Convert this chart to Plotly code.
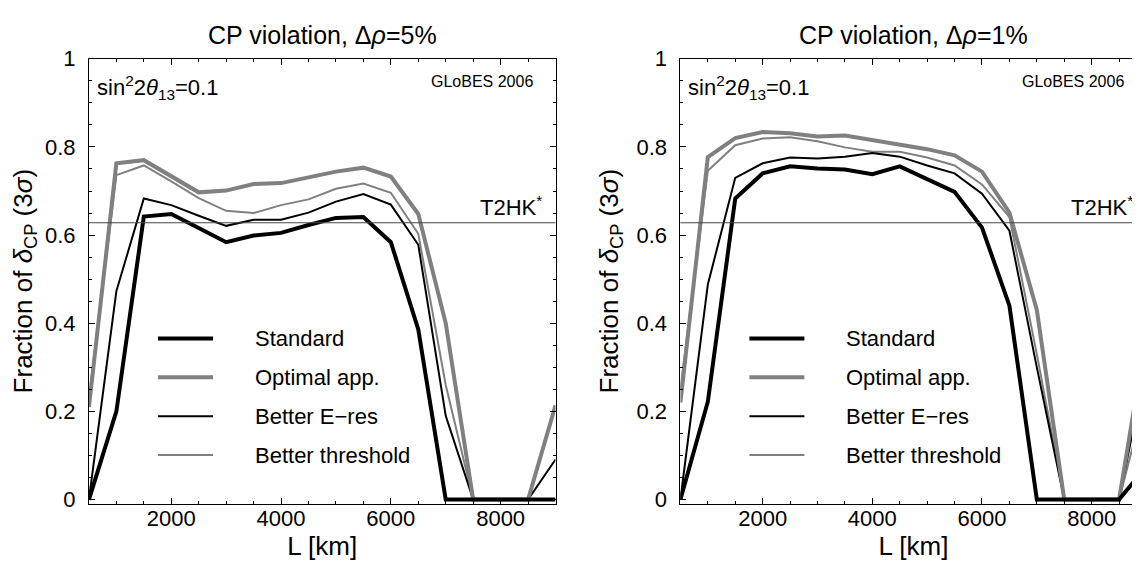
import plotly.graph_objects as go

# baseline L [km]
L = [500, 1000, 1500, 2000, 2500, 3000, 3500, 4000, 4500, 5000,
     5500, 6000, 6500, 7000, 7500, 8000, 8500, 9000]

# left panel: delta rho = 5%
std_5 = [0, 0.200, 0.642, 0.648, 0.616, 0.584, 0.599, 0.605, 0.623, 0.639,
         0.641, 0.584, 0.386, 0, 0, 0, 0, 0]
opt_5 = [0.21, 0.763, 0.770, 0.733, 0.697, 0.701, 0.716, 0.718, 0.730, 0.744,
         0.753, 0.733, 0.648, 0.40, 0, 0, 0, 0.214]
eres_5 = [0, 0.473, 0.683, 0.668, 0.644, 0.621, 0.635, 0.635, 0.651, 0.676,
          0.693, 0.669, 0.578, 0.19, 0, 0, 0, 0.091]
thr_5 = [0.23, 0.736, 0.758, 0.722, 0.684, 0.655, 0.650, 0.668, 0.681, 0.705,
         0.717, 0.696, 0.603, 0.26, 0, 0, 0, 0]

# right panel: delta rho = 1%
std_1 = [0, 0.222, 0.683, 0.740, 0.756, 0.751, 0.749, 0.738, 0.756, 0.727,
         0.698, 0.617, 0.440, 0, 0, 0, 0, 0.075]
opt_1 = [0.22, 0.777, 0.820, 0.834, 0.831, 0.824, 0.826, 0.815, 0.804, 0.795,
         0.781, 0.744, 0.651, 0.43, 0, 0, 0, 0.378]
eres_1 = [0, 0.488, 0.730, 0.763, 0.776, 0.774, 0.778, 0.786, 0.778, 0.758,
          0.740, 0.694, 0.610, 0.30, 0, 0, 0, 0.31]
thr_1 = [0.25, 0.746, 0.804, 0.819, 0.822, 0.813, 0.799, 0.789, 0.789, 0.776,
         0.758, 0.715, 0.641, 0.33, 0, 0, 0, 0.24]

t2hk = 0.628
names = ["Standard", "Optimal app.", "Better E\u2212res", "Better threshold"]
titles = ["CP violation, \u0394<i>\u03c1</i>=5%", "CP violation, \u0394<i>\u03c1</i>=1%"]

GREY = "rgb(128,128,128)"
styles = [("black", 4), (GREY, 4), ("black", 2), (GREY, 2)]
FONT = "Liberation Sans, Arial, sans-serif"
FS = 22

fig = go.Figure()
panels = [(std_5, opt_5, eres_5, thr_5), (std_1, opt_1, eres_1, thr_1)]
order = [3, 2, 1, 0]
for p, series in enumerate(panels):
    xa = "x" if p == 0 else "x2"
    ya = "y" if p == 0 else "y2"
    for i in order:
        col, w = styles[i]
        fig.add_trace(go.Scatter(x=L, y=series[i], mode="lines", name=names[i],
                                 line=dict(color=col, width=w), xaxis=xa, yaxis=ya,
                                 showlegend=False))

axis_common = dict(showline=True, linecolor="black", linewidth=1, mirror="allticks",
                   ticks="inside", ticklen=6, tickcolor="black", showgrid=False,
                   zeroline=False, tickfont=dict(size=FS, color="black", family=FONT))
ytitle = "Fraction of <i>\u03b4</i><sub>CP</sub> (3<i>\u03c3</i>)"
ydom = [1 - 502.3/562, 1 - 40.3/562]
yticks = dict(tickvals=[0, 0.2, 0.4, 0.6, 0.8, 1], ticktext=["0", "0.2", "0.4", "0.6", "0.8", "1"])
xminor = dict(dtick=500, tick0=0, ticks="inside", ticklen=3, tickcolor="black")
yminor = dict(dtick=0.05, tick0=0, ticks="inside", ticklen=3, tickcolor="black")

fig.update_layout(
    width=1140, height=562, plot_bgcolor="white", paper_bgcolor="white",
    margin=dict(l=0, r=0, t=0, b=0), showlegend=False,
    font=dict(family=FONT, color="black", size=FS),
    xaxis=dict(domain=[81/1140, 548/1140], range=[500, 9000], tickvals=[2000, 4000, 6000, 8000],
               minor=xminor, ticklabelstandoff=-5,
               title=dict(text="L [km]", standoff=0), anchor="y", **axis_common),
    yaxis=dict(domain=ydom, range=[-0.009, 1.0], minor=yminor, ticklabelstandoff=8,
               title=dict(text=ytitle, standoff=10), anchor="x", **yticks, **axis_common),
    xaxis2=dict(domain=[673/1140, 1139.5/1140], range=[500, 9000], tickvals=[2000, 4000, 6000, 8000],
                minor=xminor, ticklabelstandoff=-5,
                title=dict(text="L [km]", standoff=0), anchor="y2", **axis_common),
    yaxis2=dict(domain=ydom, range=[-0.009, 1.0], minor=yminor, ticklabelstandoff=8,
                title=dict(text=ytitle, standoff=10), anchor="x2", **yticks, **axis_common),
)

rows = [0.371, 0.284, 0.196, 0.109]
for p in range(2):
    xr = "x domain" if p == 0 else "x2 domain"
    yr = "y domain" if p == 0 else "y2 domain"
    yd = "y" if p == 0 else "y2"
    # T2HK reference line
    fig.add_shape(type="line", xref=xr, yref=yd, x0=0, x1=1, y0=t2hk, y1=t2hk,
                  line=dict(color="rgb(70,70,70)", width=1))
    fig.add_annotation(xref=xr, yref=yd, x=0.975, y=t2hk, text="T2HK<sup>*</sup>",
                       showarrow=False, xanchor="right", yanchor="bottom", yshift=1,
                       font=dict(size=FS))
    fig.add_annotation(xref=xr, yref=yr, x=0.012, y=0.935,
                       text="sin<sup>2</sup>2<i>\u03b8</i><sub>13</sub>=0.1",
                       showarrow=False, xanchor="left", yanchor="middle", font=dict(size=FS))
    fig.add_annotation(xref=xr, yref=yr, x=0.955, y=0.95, text="GLoBES 2006",
                       showarrow=False, xanchor="right", yanchor="middle", font=dict(size=16))
    fig.add_annotation(xref=xr, yref="paper", x=0.5, y=1 - 16/562, text=titles[p],
                       showarrow=False, xanchor="center", yanchor="middle", font=dict(size=25))
    # legend
    for k in range(4):
        col, w = styles[k]
        fig.add_shape(type="line", xref=xr, yref=yr, x0=0.148, x1=0.266, y0=rows[k], y1=rows[k],
                      line=dict(color=col, width=w))
        fig.add_annotation(xref=xr, yref=yr, x=0.351, y=rows[k], text=names[k], showarrow=False,
                           xanchor="left", yanchor="middle", font=dict(size=FS))

fig.write_html("out.html")
